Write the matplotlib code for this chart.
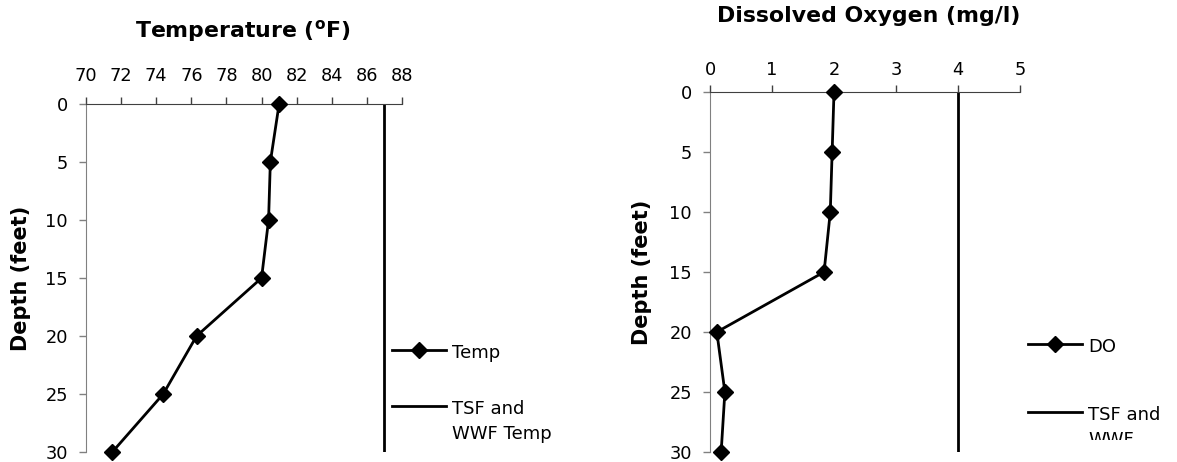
#!/usr/bin/env python
"""
Depth profiles of temperature and dissolved oxygen against the
TSF and WWF criteria.
"""
import matplotlib
matplotlib.use('Agg')
import matplotlib.pyplot as plt
from matplotlib.transforms import Bbox, TransformedBbox

# data
depth = [0, 5, 10, 15, 20, 25, 30]
temp = [81.0, 80.5, 80.4, 80.0, 76.3, 74.4, 71.5]
do = [2.0, 1.97, 1.94, 1.84, 0.11, 0.24, 0.18]
temp_limit = 87
do_limit = 4
temp_ticks = list(range(70, 89, 2))
do_ticks = [0, 1, 2, 3, 4, 5]
depth_ticks = [0, 5, 10, 15, 20, 25, 30]

plt.rcParams['font.family'] = ['DejaVu Sans']
W, H = 1177, 462
fig = plt.figure(figsize=(W / 100, H / 100), dpi=100)


def px(x0, y0, x1, y1):
    # pixel box (top-left origin) -> figure fraction rect
    return [x0 / W, 1 - y1 / H, (x1 - x0) / W, (y1 - y0) / H]


def style_axis(ax, xticks, xpad):
    ax.set_ylim(30, 0)
    ax.set_yticks(depth_ticks)
    ax.xaxis.tick_top()
    ax.set_xticks(xticks)
    ax.spines['right'].set_visible(False)
    ax.spines['bottom'].set_visible(False)
    ax.spines['left'].set_color('#808080')
    ax.spines['top'].set_color('#404040')
    ax.tick_params(axis='x', direction='out', length=5, width=1,
                   colors='#404040', labelcolor='black', labelsize=12.8,
                   pad=xpad)
    ax.tick_params(axis='y', direction='out', length=5, width=1,
                   colors='#808080', labelcolor='black', labelsize=12.8,
                   pad=8)


def fix_legend(leg):
    # handle next to the first line of a wrapped label, Excel-like spacing
    for col in leg._legend_handle_box.get_children():
        for row in col.get_children():
            row.align = 'top'
    for t in leg.get_texts():
        t.set_linespacing(1.5)


# temperature panel
ax1 = fig.add_axes(px(86, 104, 402, 452))
ax1.plot(temp, depth, color='black', lw=2, marker='D', ms=8.5,
         clip_on=False, label='Temp', zorder=3)
ax1.plot([temp_limit, temp_limit], [0, 30], color='black', lw=2,
         label='TSF and\nWWF Temp')
ax1.set_xlim(70, 88)
style_axis(ax1, temp_ticks, 9)
fig.text(243 / W, 1 - 31 / H, r'Temperature ($\mathregular{^o}$F)',
         ha='center', va='center', fontsize=15.8, fontweight='bold')
fig.text(21 / W, 1 - 278 / H, 'Depth (feet)', rotation=90,
         ha='center', va='center', fontsize=15, fontweight='bold')
leg1 = ax1.legend(loc='upper left', bbox_to_anchor=(392 / W, 1 - 344 / H),
                  bbox_transform=fig.transFigure, frameon=False,
                  fontsize=13, handlelength=3.0, handletextpad=0.35,
                  borderpad=0, borderaxespad=0, labelspacing=2.1)
fix_legend(leg1)

# dissolved oxygen panel
ax2 = fig.add_axes(px(710, 92, 1020, 452))
ax2.plot(do, depth, color='black', lw=2, marker='D', ms=8.5,
         clip_on=False, label='DO', zorder=3)
ax2.plot([do_limit, do_limit], [0, 30], color='black', lw=2,
         label='TSF and\nWWF\nDO')
ax2.set_xlim(0, 5)
style_axis(ax2, do_ticks, 4)
fig.text(869 / W, 1 - 16 / H, 'Dissolved Oxygen (mg/l)',
         ha='center', va='center', fontsize=15.8, fontweight='bold')
fig.text(642 / W, 1 - 272 / H, 'Depth (feet)', rotation=90,
         ha='center', va='center', fontsize=15, fontweight='bold')
leg2 = ax2.legend(loc='upper left', bbox_to_anchor=(1028 / W, 1 - 338 / H),
                  bbox_transform=fig.transFigure, frameon=False,
                  fontsize=13, handlelength=3.0, handletextpad=0.35,
                  borderpad=0, borderaxespad=0, labelspacing=2.75)
fix_legend(leg2)
# legend box is cut off at the bottom, as in the original chart
clip = TransformedBbox(Bbox([[0, 22 / H], [1, 1]]), fig.transFigure)
for t in leg2.get_texts():
    t.set_clip_box(clip)
    t.set_clip_on(True)

fig.savefig('out.png', dpi=100)
